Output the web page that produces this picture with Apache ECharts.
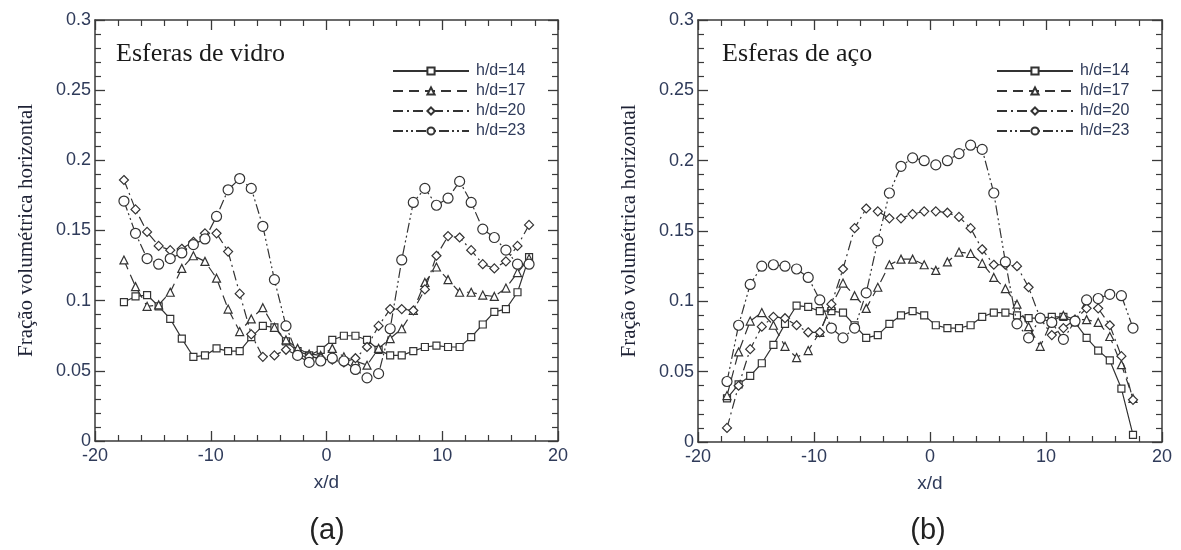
<!DOCTYPE html>
<html>
<head>
<meta charset="utf-8">
<title>Fração volumétrica horizontal</title>
<script src="https://cdn.jsdelivr.net/npm/echarts@6/dist/echarts.min.js"></script>
<style>
  html, body { margin: 0; padding: 0; background: #fff; }
  #chart { width: 1181px; height: 550px; }
</style>
</head>
<body>
<div id="chart"></div>
<script>
// x/d positions of the measurements
const xd = [-17.5, -16.5, -15.5, -14.5, -13.5, -12.5, -11.5, -10.5, -9.5, -8.5, -7.5, -6.5,
  -5.5, -4.5, -3.5, -2.5, -1.5, -0.5, 0.5, 1.5, 2.5, 3.5, 4.5, 5.5, 6.5, 7.5, 8.5, 9.5,
  10.5, 11.5, 12.5, 13.5, 14.5, 15.5, 16.5, 17.5];

const seriesNames = ["h/d=14", "h/d=17", "h/d=20", "h/d=23"];

// (a) Esferas de vidro
const vidro14 = [0.099, 0.103, 0.104, 0.096, 0.087, 0.073, 0.060, 0.061, 0.066, 0.064, 0.064, 0.074,
  0.082, 0.081, 0.071, 0.064, 0.061, 0.065, 0.072, 0.075, 0.075, 0.072, 0.065, 0.061,
  0.061, 0.064, 0.067, 0.068, 0.067, 0.067, 0.074, 0.083, 0.092, 0.094, 0.106, 0.131];
const vidro17 = [0.129, 0.110, 0.096, 0.097, 0.106, 0.123, 0.132, 0.128, 0.116, 0.094, 0.078, 0.087,
  0.095, 0.081, 0.072, 0.066, 0.062, 0.061, 0.066, 0.060, 0.057, 0.054, 0.066, 0.073,
  0.080, 0.093, 0.113, 0.124, 0.115, 0.106, 0.106, 0.104, 0.103, 0.109, 0.120, 0.130];
const vidro20 = [0.186, 0.165, 0.149, 0.139, 0.136, 0.137, 0.142, 0.148, 0.148, 0.135, 0.105, 0.076,
  0.060, 0.061, 0.065, 0.061, 0.060, 0.059, 0.058, 0.056, 0.059, 0.067, 0.082, 0.094,
  0.094, 0.093, 0.108, 0.132, 0.146, 0.145, 0.136, 0.126, 0.123, 0.128, 0.139, 0.154];
const vidro23 = [0.171, 0.148, 0.130, 0.126, 0.130, 0.134, 0.140, 0.144, 0.160, 0.179, 0.187, 0.180,
  0.153, 0.115, 0.082, 0.061, 0.056, 0.057, 0.059, 0.057, 0.051, 0.045, 0.048, 0.080,
  0.129, 0.170, 0.180, 0.168, 0.173, 0.185, 0.170, 0.151, 0.145, 0.136, 0.126, 0.126];

// (b) Esferas de aço
const aco14 = [0.031, 0.041, 0.047, 0.056, 0.069, 0.084, 0.097, 0.096, 0.093, 0.093, 0.092, 0.083,
  0.074, 0.076, 0.084, 0.090, 0.093, 0.090, 0.083, 0.081, 0.081, 0.083, 0.089, 0.092,
  0.092, 0.090, 0.088, 0.088, 0.089, 0.089, 0.085, 0.074, 0.065, 0.058, 0.038, 0.005];
const aco17 = [0.033, 0.064, 0.086, 0.092, 0.083, 0.068, 0.060, 0.065, 0.078, 0.097, 0.113, 0.104,
  0.095, 0.110, 0.126, 0.130, 0.130, 0.126, 0.122, 0.128, 0.135, 0.134, 0.127, 0.117,
  0.109, 0.098, 0.082, 0.068, 0.086, 0.090, 0.087, 0.087, 0.085, 0.075, 0.055, 0.031];
const aco20 = [0.010, 0.040, 0.066, 0.082, 0.089, 0.088, 0.083, 0.078, 0.078, 0.098, 0.123, 0.152,
  0.166, 0.164, 0.159, 0.159, 0.162, 0.164, 0.164, 0.163, 0.160, 0.152, 0.137, 0.126,
  0.126, 0.125, 0.110, 0.088, 0.076, 0.081, 0.087, 0.095, 0.095, 0.083, 0.061, 0.030];
const aco23 = [0.043, 0.083, 0.112, 0.125, 0.126, 0.125, 0.123, 0.117, 0.101, 0.081, 0.074, 0.081,
  0.106, 0.143, 0.177, 0.196, 0.202, 0.200, 0.197, 0.200, 0.205, 0.211, 0.208, 0.177,
  0.128, 0.084, 0.074, 0.088, 0.085, 0.073, 0.086, 0.101, 0.102, 0.105, 0.104, 0.081];

const panels = [
  { title: "Esferas de vidro", tag: "(a)", values: [vidro14, vidro17, vidro20, vidro23] },
  { title: "Esferas de aço", tag: "(b)", values: [aco14, aco17, aco20, aco23] },
];

const markers = [
  { symbol: "rect", size: 7, dash: "solid" },
  { symbol: "triangle", size: 8, dash: [10, 6] },
  { symbol: "diamond", size: 9, dash: [10, 4, 2, 4] },
  { symbol: "circle", size: 10, dash: [10, 3, 2, 3, 2, 3] },
];

const ink = "#333";
const labelColor = "#2f3b5a";
const sans = "Liberation Sans, Arial, sans-serif";
const serif = "Liberation Serif, Times New Roman, serif";

const grids = [
  { left: 95, top: 20, width: 463, height: 421 },
  { left: 698, top: 20, width: 464, height: 422 },
];

const tickStyle = {
  axisLine: { show: true, onZero: false, lineStyle: { color: "#3a3a3a", width: 1.5 } },
  axisTick: { show: true, inside: true, length: 10, lineStyle: { color: "#3a3a3a", width: 1.3 } },
  minorTick: { show: true, splitNumber: 5, length: 6, lineStyle: { color: "#3a3a3a", width: 1.2 } },
  splitLine: { show: false },
  minorSplitLine: { show: false },
};

function xAxisFor(gi, pos) {
  return Object.assign({
    type: "value", gridIndex: gi, position: pos, min: -20, max: 20, interval: 10,
    name: pos === "bottom" ? "x/d" : "",
    nameLocation: "middle", nameGap: 32,
    nameTextStyle: { fontFamily: sans, fontSize: 19, color: labelColor },
    axisLabel: { show: pos === "bottom", fontFamily: sans, fontSize: 18, color: labelColor, margin: 6 },
  }, tickStyle);
}

function yAxisFor(gi, pos) {
  return Object.assign({
    type: "value", gridIndex: gi, position: pos, min: 0, max: 0.3, interval: 0.05,
    name: pos === "left" ? "Fração volumétrica horizontal" : "",
    nameLocation: "middle", nameGap: 58,
    nameTextStyle: { fontFamily: serif, fontSize: 21, color: "#1e2235" },
    axisLabel: { show: pos === "left", fontFamily: sans, fontSize: 18, color: labelColor, margin: 4 },
  }, tickStyle);
}

const series = [];
panels.forEach((p, gi) => {
  p.values.forEach((vals, si) => {
    const m = markers[si];
    series.push({
      name: seriesNames[si],
      type: "line",
      xAxisIndex: gi,
      yAxisIndex: gi,
      data: xd.map((x, i) => [x, vals[i]]),
      symbol: m.symbol,
      symbolSize: m.size,
      showAllSymbol: true,
      lineStyle: { color: ink, width: 1.2, type: m.dash },
      itemStyle: { color: "#fff", borderColor: ink, borderWidth: 1.2 },
      emphasis: { disabled: true },
      z: 2 + si,
    });
  });
});

const chart = echarts.init(document.getElementById("chart"));
chart.setOption({
  animation: false,
  backgroundColor: "#fff",
  title: [
    { text: panels[0].title, left: 116, top: 41, padding: 0,
      textStyle: { fontFamily: serif, fontSize: 26, fontWeight: "normal", color: "#1a1a1a" } },
    { text: panels[1].title, left: 722, top: 41, padding: 0,
      textStyle: { fontFamily: serif, fontSize: 26, fontWeight: "normal", color: "#1a1a1a" } },
    { text: panels[0].tag, left: 327, top: 531, textAlign: "center", textVerticalAlign: "middle", padding: 0,
      textStyle: { fontFamily: sans, fontSize: 29, fontWeight: "normal", color: "#222" } },
    { text: panels[1].tag, left: 928, top: 531, textAlign: "center", textVerticalAlign: "middle", padding: 0,
      textStyle: { fontFamily: sans, fontSize: 29, fontWeight: "normal", color: "#222" } },
  ],
  legend: [387, 991].map(left => ({
    data: seriesNames,
    orient: "vertical",
    left: left,
    top: 58,
    itemWidth: 76,
    itemHeight: 9,
    itemGap: 4,
    selectedMode: false,
    textStyle: { fontFamily: sans, fontSize: 16, lineHeight: 16, color: labelColor, padding: [0, 0, 0, 2] },
  })),
  grid: grids,
  xAxis: [xAxisFor(0, "bottom"), xAxisFor(1, "bottom"), xAxisFor(0, "top"), xAxisFor(1, "top")],
  yAxis: [yAxisFor(0, "left"), yAxisFor(1, "left"), yAxisFor(0, "right"), yAxisFor(1, "right")],
  series: series,
});
</script>
</body>
</html>
